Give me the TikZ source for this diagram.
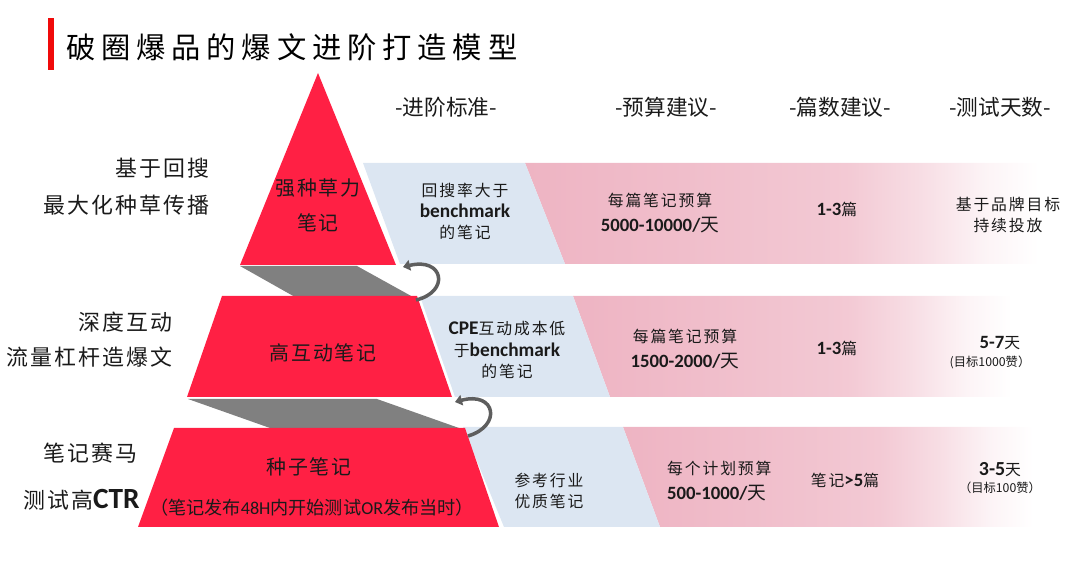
\documentclass[tikz,border=0pt]{standalone}
\usepackage{fontspec}
\setmainfont{Noto Sans CJK SC}
\newfontfamily\latin{Carlito}
\newfontfamily\spaced[LetterSpace=10]{Noto Sans CJK SC}
\newfontfamily\cellfont[LetterSpace=12]{Noto Sans CJK SC}
\newfontfamily\titlefont[LetterSpace=20]{Noto Sans CJK SC}
\usepackage{tikz}
\usetikzlibrary{arrows.meta,positioning}
\usepackage{xcolor}
\definecolor{pyrred}{HTML}{FF2044}
\definecolor{barred}{HTML}{F00A0A}
\definecolor{shadowgray}{HTML}{808080}
\definecolor{bandblue}{HTML}{DCE6F2}
\definecolor{bandpink}{HTML}{EEB4C3}
\definecolor{arrowgray}{HTML}{5E5E5E}
\definecolor{darktext}{HTML}{1A1A1A}
\pgfdeclarehorizontalshading{pinkfade}{100bp}{color(0bp)=(bandpink);
  color(25bp)=(bandpink); color(42bp)=(bandpink!85!white);
  color(55bp)=(bandpink!72!white); color(62bp)=(bandpink!45!white);
  color(68bp)=(bandpink!15!white); color(73bp)=(white); color(100bp)=(white)}
\newcommand\latnum[1]{{\latin\bfseries #1}}

\begin{document}
\begin{tikzpicture}[x=0.03cm, y=-0.03cm,
  layer/.style={fill=pyrred, draw=none},
  shadow/.style={fill=shadowgray, draw=none},
  critband/.style={fill=bandblue, draw=none},
  fadeband/.style={shade, shading=pinkfade, draw=none},
  headtxt/.style={font=\fontsize{18.5}{22}\selectfont, text=darktext},
  sidetxt/.style={font=\spaced\fontsize{18.7}{22}\selectfont, text=darktext,
                  anchor=east, inner sep=0pt},
  layertxt/.style={font=\spaced\fontsize{17}{30}\selectfont, align=center,
                   text=darktext},
  celltxt/.style={font=\cellfont\fontsize{13.5}{18}\selectfont, align=center,
                  text=darktext},
  smalltxt/.style={font=\fontsize{10.5}{12}\selectfont, text=darktext},
  backarrow/.style={draw=arrowgray, line width=3pt,
                    -{Triangle[width=9pt,length=6pt]}},
]
  \useasboundingbox (0,0) rectangle (1080,572);

  % title
  \fill[barred] (48,18) rectangle (54,70);
  \node[anchor=west, inner sep=0pt, font=\titlefont\fontsize{25}{28}\selectfont]
    (title) at (66,47) {破圈爆品的爆文进阶打造模型};

  % column heads
  \node[headtxt] (hcrit) at (446,107) {-进阶标准-};
  \node[headtxt] (hbudget) at (666,107) {-预算建议-};
  \node[headtxt] (hcount) at (840,107) {-篇数建议-};
  \node[headtxt] (hdays) at (1000,107) {-测试天数-};

  % bands
  \path[fadeband] (525,163) -- (1060,163) -- (1060,264) -- (565,264) -- cycle;
  \path[critband] (363,163) -- (525,163) -- (565,264) -- (400,264) -- cycle;
  \path[fadeband] (573,296) -- (1030,296) -- (1030,397) -- (610,397) -- cycle;
  \path[critband] (420,296) -- (573,296) -- (610,397) -- (455,397) -- cycle;
  \path[fadeband] (623,427) -- (1050,427) -- (1050,527) -- (660,527) -- cycle;
  \path[critband] (463,427) -- (623,427) -- (660,527) -- (504,527) -- cycle;

  % pyramid
  \path[shadow] (240,266) -- (357,266) -- (413,297) -- (295,297) -- cycle;
  \path[shadow] (188,399) -- (377,399) -- (459,428) -- (270,428) -- cycle;
  \path[layer] (318,73) -- (396,265) -- (240,265) -- cycle;
  \path[layer] (222,296) -- (417,296) -- (452,397) -- (187,397) -- cycle;
  \path[layer] (174,428) -- (465,428) -- (499,527) -- (138,527) -- cycle;

  \coordinate (up1s) at (416,300);
  \coordinate (up1e) at (403,267);
  \coordinate (up2s) at (468,436);
  \coordinate (up2e) at (455,402);
  \draw[backarrow] (up1s) .. controls (450,292) and (444,257) .. (up1e);
  \draw[backarrow] (up2s) .. controls (502,426) and (496,391) .. (up2e);

  \node[layertxt] (top) at (318,205) {强种草力\\笔记};
  \node[layertxt] (mid) at (323,353) {高互动笔记};
  \node[layertxt] (seed) at (309,467) {种子笔记};
  \node[font=\fontsize{15.5}{17}\selectfont, text=darktext] (seednote) at (312,508)
    {（笔记发布{\latin 48H}内开始测试{\latin OR}发布当时）};

  % left labels
  \node[sidetxt] (goal1a) at (210,168) {基于回搜};
  \node[sidetxt] (goal1b) at (210,205) {最大化种草传播};
  \node[sidetxt] (goal2a) at (173,322) {深度互动};
  \node[sidetxt] (goal2b) at (173,357) {流量杠杆造爆文};
  \node[sidetxt] (goal3a) at (138,453) {笔记赛马};
  \node[sidetxt] (goal3b) at (140,500)
    {测试高{\latin\bfseries\fontsize{25}{25}\selectfont CTR}};

  % row 1
  \node[celltxt] (crit1) at (465,211)
    {回搜率大于\\{\latin\bfseries\fontsize{16.5}{18}\selectfont benchmark}\\的笔记};
  \node[celltxt] (budget1) at (660,213)
    {每篇笔记预算\\[4pt]{\fontsize{16}{18}\selectfont\latnum{5000-10000/}天}};
  \node[celltxt] (count1) at (837,209) {{\fontsize{16}{18}\selectfont\latnum{1-3}}篇};
  \node[celltxt] (days1) at (1008,215) {基于品牌目标\\持续投放};

  % row 2
  \node[celltxt] (crit2) at (507,350)
    {{\latin\bfseries\fontsize{16.5}{18}\selectfont CPE}互动成本低\\于{\latin\bfseries\fontsize{16.5}{18}\selectfont benchmark}\\的笔记};
  \node[celltxt] (budget2) at (685,349)
    {每篇笔记预算\\[4pt]{\fontsize{16}{18}\selectfont\latnum{1500-2000/}天}};
  \node[celltxt] (count2) at (837,348) {{\fontsize{16}{18}\selectfont\latnum{1-3}}篇};
  \node[celltxt] (days2) at (1000,343) {{\fontsize{16}{18}\selectfont\latnum{5-7}}天};
  \node[smalltxt] (goal2) at (990,362) {(目标1000赞）};

  % row 3
  \node[celltxt] (crit3) at (549,491) {参考行业\\优质笔记};
  \node[celltxt, align=left, anchor=west] (budget3) at (663,481)
    {每个计划预算\\[4pt]{\fontsize{16}{18}\selectfont\latnum{500-1000/}天}};
  \node[celltxt] (count3) at (845,480) {笔记{\fontsize{16}{18}\selectfont\latnum{>5}}篇};
  \node[celltxt] (days3) at (1000,470) {{\fontsize{17}{18}\selectfont\latnum{3-5}}天};
  \node[smalltxt] (goal3) at (1000,488) {（目标100赞）};
\end{tikzpicture}
\end{document}
